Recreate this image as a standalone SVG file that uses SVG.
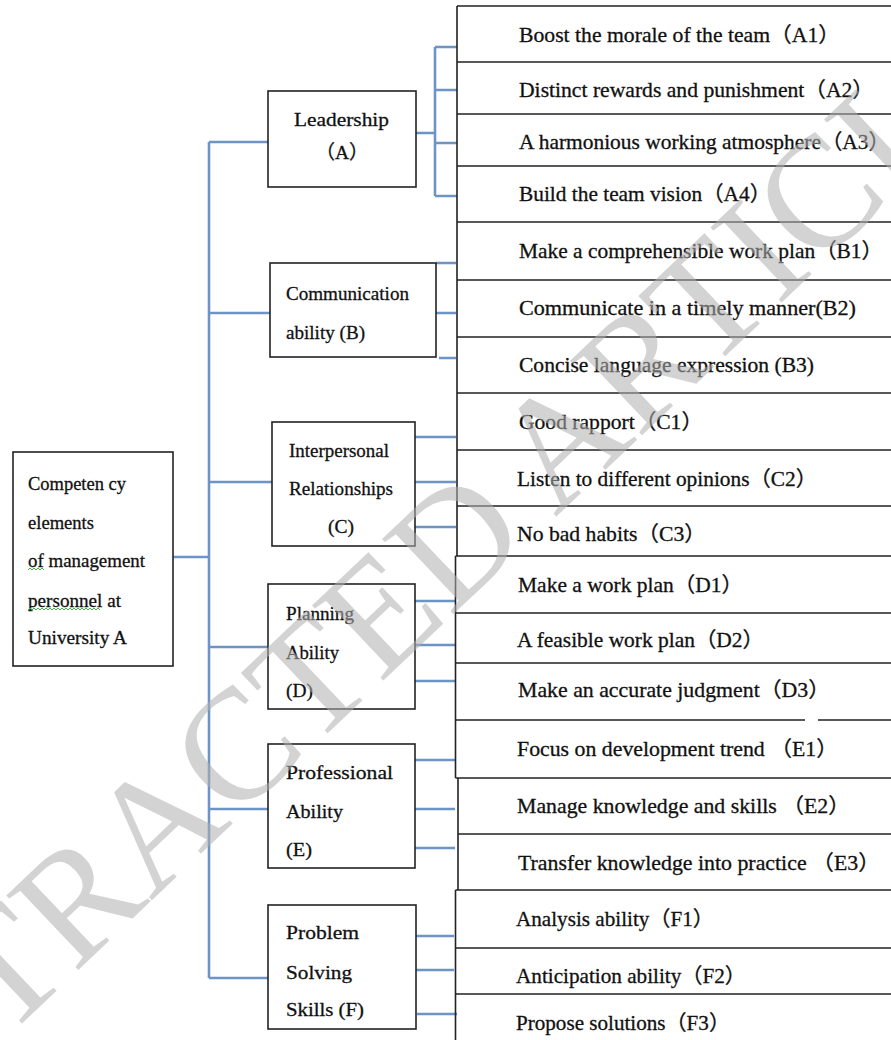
<svg xmlns="http://www.w3.org/2000/svg" width="891" height="1040" viewBox="0 0 891 1040">
<style>
.box{fill:#fff;stroke:#222;stroke-width:1.6}
.ln{fill:none;stroke:#222;stroke-width:1.6}
.bl{fill:none;stroke:#6d94c5;stroke-width:2.6}
text{font-family:"Liberation Serif","Noto Sans CJK SC",serif;fill:#111;stroke:#111;stroke-width:0.3}
.t{font-size:21px}
.c{font-size:19.5px}
.r{font-size:19px}
.sq{fill:none;stroke:#4caf50;stroke-width:1}
.wm{font-family:"Liberation Serif",serif;font-size:158px;fill:#b0b0b0;stroke:none;opacity:0.55}
</style>
<rect width="891" height="1040" fill="#fff"/>

<g id="connectors">
<path class="bl" d="M173,557H209M209,142V978M209,142H268M209,313H270M209,482H272M209,647H268M209,809H268M209,978H272"/>
<path class="bl" d="M416,133H435M435,47V196M435,47H457M435,90H457M435,143H457M435,196H457"/>
<path class="bl" d="M436,263H456M436,313H456M439,358H456"/>
<path class="bl" d="M415,437H456M415,482H456M415,527H456"/>
<path class="bl" d="M415,601H455M415,645H455M415,681H455"/>
<path class="bl" d="M415,760H455M415,809H455M415,848H455"/>
<path class="bl" d="M414,936H454M414,970H454M417,1014H457"/>
</g>

<g id="root">
<rect class="box" x="13" y="452" width="160" height="214"/>
<text class="r" x="28" y="490" textLength="98" lengthAdjust="spacingAndGlyphs">Competen cy</text>
<text class="r" x="28" y="529" textLength="66" lengthAdjust="spacingAndGlyphs">elements</text>
<text class="r" x="28" y="567" textLength="117" lengthAdjust="spacingAndGlyphs">of management</text>
<text class="r" x="28" y="607" textLength="93" lengthAdjust="spacingAndGlyphs">personnel at</text>
<text class="r" x="28" y="644" textLength="99" lengthAdjust="spacingAndGlyphs">University A</text>
<path class="sq" d="M28,570l2,-2l2,2l2,-2l2,2l2,-2l2,2l2,-2l2,2"/>
<path class="sq" d="M28,610l2,-2l2,2l2,-2l2,2l2,-2l2,2l2,-2l2,2l2,-2l2,2l2,-2l2,2l2,-2l2,2l2,-2l2,2l2,-2l2,2l2,-2l2,2l2,-2l2,2l2,-2l2,2l2,-2l2,2l2,-2l2,2l2,-2l2,2l2,-2l2,2l2,-2l2,2l2,-2l2,2"/>
</g>

<g id="cat-A">
<rect class="box" x="268" y="91" width="148" height="96"/>
<text class="c" x="294" y="126" textLength="95" lengthAdjust="spacingAndGlyphs">Leadership</text>
<text class="c" x="342" y="159" text-anchor="middle">（A）</text>
</g>
<g id="cat-B">
<rect class="box" x="270" y="263" width="166" height="94"/>
<text class="c" x="286" y="300" textLength="123" lengthAdjust="spacingAndGlyphs">Communication</text>
<text class="c" x="286" y="339" textLength="79" lengthAdjust="spacingAndGlyphs">ability (B)</text>
</g>
<g id="cat-C">
<rect class="box" x="272" y="422" width="143" height="124"/>
<text class="c" x="289" y="457" textLength="100" lengthAdjust="spacingAndGlyphs">Interpersonal</text>
<text class="c" x="289" y="495" textLength="104" lengthAdjust="spacingAndGlyphs">Relationships</text>
<text class="c" x="328" y="533" textLength="26" lengthAdjust="spacingAndGlyphs">(C)</text>
</g>
<g id="cat-D">
<rect class="box" x="268" y="584" width="147" height="125"/>
<text class="c" x="286" y="620" textLength="68" lengthAdjust="spacingAndGlyphs">Planning</text>
<text class="c" x="286" y="659" textLength="53" lengthAdjust="spacingAndGlyphs">Ability</text>
<text class="c" x="286" y="697" textLength="27" lengthAdjust="spacingAndGlyphs">(D)</text>
</g>
<g id="cat-E">
<rect class="box" x="268" y="744" width="147" height="124"/>
<text class="c" x="286" y="779" textLength="107" lengthAdjust="spacingAndGlyphs">Professional</text>
<text class="c" x="286" y="818" textLength="57" lengthAdjust="spacingAndGlyphs">Ability</text>
<text class="c" x="286" y="856" textLength="26" lengthAdjust="spacingAndGlyphs">(E)</text>
</g>
<g id="cat-F">
<rect class="box" x="268" y="905" width="148" height="124"/>
<text class="c" x="286" y="939" textLength="73" lengthAdjust="spacingAndGlyphs">Problem</text>
<text class="c" x="286" y="979" textLength="66" lengthAdjust="spacingAndGlyphs">Solving</text>
<text class="c" x="286" y="1016" textLength="78" lengthAdjust="spacingAndGlyphs">Skills (F)</text>
</g>

<g id="items-grid">
<path class="ln" d="M457,6V556M455.5,556V778M458,778V890M455.5,890V1040"/>
<path class="ln" d="M457,6H900M457,62H900M457,114H900M457,166H900M457,222H900M457,280H900M457,337H900M457,393H900M457,450H900M457,506H900M455.5,556H900M455.5,613H900M455.5,663H900M455.5,720H805M818,720H900M455.5,778H900M458,834H900M455.5,890H900M455.5,948H900M455.5,994H900"/>
</g>

<g id="item-A1"><text class="t" x="519" y="42" textLength="321" lengthAdjust="spacingAndGlyphs">Boost the morale of the team（A1）</text></g>
<g id="item-A2"><text class="t" x="519" y="97" textLength="355" lengthAdjust="spacingAndGlyphs">Distinct rewards and punishment（A2）</text></g>
<g id="item-A3"><text class="t" x="519" y="149" textLength="371" lengthAdjust="spacingAndGlyphs">A harmonious working atmosphere（A3）</text></g>
<g id="item-A4"><text class="t" x="519" y="201" textLength="252" lengthAdjust="spacingAndGlyphs">Build the team vision（A4）</text></g>
<g id="item-B1"><text class="t" x="519" y="258" textLength="364" lengthAdjust="spacingAndGlyphs">Make a comprehensible work plan（B1）</text></g>
<g id="item-B2"><text class="t" x="519" y="315" textLength="337" lengthAdjust="spacingAndGlyphs">Communicate in a timely manner(B2)</text></g>
<g id="item-B3"><text class="t" x="519" y="372" textLength="295" lengthAdjust="spacingAndGlyphs">Concise language expression (B3)</text></g>
<g id="item-C1"><text class="t" x="519" y="429" textLength="184" lengthAdjust="spacingAndGlyphs">Good rapport（C1）</text></g>
<g id="item-C2"><text class="t" x="517" y="486" textLength="300" lengthAdjust="spacingAndGlyphs">Listen to different opinions（C2）</text></g>
<g id="item-C3"><text class="t" x="517" y="541" textLength="189" lengthAdjust="spacingAndGlyphs">No bad habits（C3）</text></g>
<g id="item-D1"><text class="t" x="518" y="592" textLength="225" lengthAdjust="spacingAndGlyphs">Make a work plan（D1）</text></g>
<g id="item-D2"><text class="t" x="517" y="647" textLength="247" lengthAdjust="spacingAndGlyphs">A feasible work plan（D2）</text></g>
<g id="item-D3"><text class="t" x="518" y="697" textLength="312" lengthAdjust="spacingAndGlyphs">Make an accurate judgment（D3）</text></g>
<g id="item-E1"><text class="t" x="517" y="756" textLength="321" lengthAdjust="spacingAndGlyphs">Focus on development trend （E1）</text></g>
<g id="item-E2"><text class="t" x="517" y="813" textLength="333" lengthAdjust="spacingAndGlyphs">Manage knowledge and skills （E2）</text></g>
<g id="item-E3"><text class="t" x="518" y="870" textLength="362" lengthAdjust="spacingAndGlyphs">Transfer knowledge into practice （E3）</text></g>
<g id="item-F1"><text class="t" x="516" y="926" textLength="198" lengthAdjust="spacingAndGlyphs">Analysis ability（F1）</text></g>
<g id="item-F2"><text class="t" x="516" y="983" textLength="230" lengthAdjust="spacingAndGlyphs">Anticipation ability（F2）</text></g>
<g id="item-F3"><text class="t" x="516" y="1030" textLength="214" lengthAdjust="spacingAndGlyphs">Propose solutions（F3）</text></g>

<text class="wm" transform="translate(445,622) rotate(-43.5)" text-anchor="middle">RETRACTED ARTICLE</text>
</svg>
